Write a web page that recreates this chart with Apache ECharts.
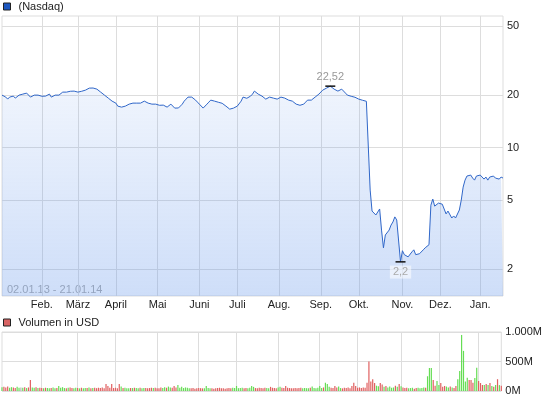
<!DOCTYPE html>
<html>
<head>
<meta charset="utf-8">
<script src="https://cdn.jsdelivr.net/npm/echarts@6/dist/echarts.min.js"></script>
<style>
  html, body { margin: 0; padding: 0; background: #fff; }
  #chart { width: 545px; height: 401px; }
</style>
</head>
<body>
<div id="chart"></div>
<script>
// Börsenfeiertage (Nasdaq) im Zeitraum
const holidays = ['2013-01-21', '2013-02-18', '2013-03-29', '2013-05-27', '2013-07-04',
  '2013-09-02', '2013-11-28', '2013-12-25', '2014-01-01', '2014-01-20']
const monthNames = ['Jan.', 'Feb.', 'März', 'April', 'Mai', 'Juni', 'Juli', 'Aug.', 'Sep.', 'Okt.', 'Nov.', 'Dez.']
const priceTicks = [2, 5, 10, 20, 50]
const rangeText = '02.01.13 - 21.01.14'

// Schlusskurse in USD (ein Wert je Handelstag)
const prices = [
  20.00, 19.74, 19.48, 18.97, 19.48, 20.00, 19.74, 19.22, 19.48, 20.00,
  20.00, 20.27, 20.22, 20.54, 20.27, 19.48, 19.74, 20.00, 19.74, 20.00,
  19.74, 19.70, 20.00, 19.74, 20.00, 20.27, 19.48, 19.74, 20.00, 19.74,
  20.00, 20.27, 20.81, 21.09, 20.81, 21.09, 21.05, 20.81, 21.09, 21.12,
  20.81, 21.09, 21.05, 21.12, 21.37, 21.33, 21.94, 21.90, 21.97, 21.94,
  21.65, 21.09, 20.81, 20.54, 20.00, 19.74, 19.22, 18.72, 18.47, 18.23,
  17.99, 17.29, 16.84, 17.06, 17.02, 17.29, 17.52, 17.75, 17.71, 17.99,
  17.75, 17.99, 18.23, 17.99, 18.23, 18.47, 18.23, 17.99, 17.95, 17.75,
  17.99, 17.75, 17.52, 17.48, 17.29, 17.52, 17.75, 17.06, 17.29, 17.75,
  17.52, 16.84, 16.80, 16.87, 17.06, 17.75, 18.47, 18.97, 19.48, 19.74,
  19.48, 19.22, 18.72, 18.23, 17.75, 17.29, 16.84, 17.29, 17.75, 18.23,
  18.72, 18.68, 18.47, 18.23, 18.20, 17.99, 17.95, 17.52, 17.29, 16.84,
  16.61, 16.39, 16.84, 17.06, 17.29, 17.52, 18.47, 19.48, 19.22, 19.18,
  19.48, 19.74, 20.27, 21.09, 20.54, 20.27, 20.00, 19.74, 19.48, 18.97,
  19.22, 19.48, 19.44, 19.22, 19.18, 18.97, 19.22, 19.48, 19.44, 19.22,
  18.97, 18.72, 18.68, 18.47, 17.99, 17.75, 17.52, 17.48, 17.29, 17.75,
  18.23, 18.72, 18.97, 18.72, 18.97, 19.48, 20.00, 20.27, 20.81, 21.37,
  21.33, 21.94, 22.23, 22.52, 21.94, 21.65, 21.37, 21.09, 21.37, 21.65,
  21.09, 20.54, 20.00, 19.74, 19.70, 19.48, 19.44, 19.22, 18.97, 18.72,
  18.68, 18.47, 18.43, 18.23, 5.69, 4.31, 4.26, 4.09, 4.15, 4.43,
  3.35, 2.65, 3.14, 3.10, 3.35, 3.58, 3.73, 3.99, 3.83, 3.88,
  2.20, 2.55, 2.42, 2.36, 2.35, 2.39, 2.51, 2.58, 2.42, 2.41,
  2.45, 2.51, 2.58, 2.65, 2.64, 2.76, 4.66, 5.05, 4.60, 4.54,
  4.79, 4.85, 4.72, 4.60, 4.15, 4.31, 4.37, 3.93, 4.04, 3.93,
  3.83, 4.37, 4.98, 5.92, 6.49, 6.85, 7.03, 6.94, 6.67, 6.49,
  6.85, 7.03, 6.94, 6.76, 6.58, 6.76, 6.49, 6.76, 6.67, 6.85,
  6.67, 6.76, 6.58, 6.76, 6.67
]

// Umsatz in Mio. USD
const volumes = [
  65, 70, 60, 75, 55, 65, 60, 50, 70, 55,
  60, 55, 65, 50, 60, 186, 60, 55, 65, 50,
  55, 50, 45, 55, 50, 48, 52, 60, 45, 50,
  85, 55, 65, 50, 45, 55, 60, 50, 45, 55,
  50, 45, 55, 48, 50, 52, 60, 45, 50, 55,
  48, 55, 50, 60, 45, 120, 85, 55, 120, 50,
  55, 45, 120, 75, 50, 55, 48, 45, 52, 50,
  55, 50, 45, 55, 48, 50, 52, 45, 50, 55,
  50, 55, 45, 48, 60, 50, 65, 55, 75, 60,
  55, 85, 60, 100, 55, 70, 50, 60, 55, 45,
  45, 50, 40, 45, 50, 48, 45, 45, 85, 50,
  45, 48, 40, 45, 50, 55, 45, 48, 40, 45,
  50, 45, 55, 50, 85, 48, 50, 55, 45, 50,
  48, 55, 85, 70, 50, 45, 55, 50, 45, 55,
  50, 48, 70, 55, 50, 45, 60, 70, 55, 50,
  85, 55, 50, 45, 48, 50, 45, 50, 55, 45,
  50, 48, 45, 55, 75, 50, 45, 55, 85, 50,
  60, 140, 120, 70, 55, 50, 85, 60, 75, 50,
  45, 55, 50, 60, 45, 85, 140, 85, 55, 60,
  50, 60, 55, 140, 500, 160, 200, 135, 90, 80,
  135, 110, 70, 85, 60, 75, 55, 60, 90, 70,
  120, 80, 60, 50, 55, 45, 50, 55, 40, 50,
  55, 45, 50, 60, 55, 250, 390, 390, 186, 90,
  170, 100, 135, 70, 85, 75, 60, 75, 60, 50,
  85, 200, 340, 950, 680, 160, 225, 186, 186, 140,
  220, 395, 170, 135, 100, 100, 120, 100, 135, 85,
  70, 100, 200, 100, 90
]

// Handelstage: Werktage ohne Feiertage
function buildDays(start, end) {
  const out = []
  for (let t = start; t <= end; t += 86400000) {
    const d = new Date(t)
    const wd = d.getUTCDay()
    const s = d.toISOString().slice(0, 10)
    if (wd === 0 || wd === 6 || holidays.includes(s)) continue
    out.push(s)
  }
  return out
}
const days = buildDays(Date.UTC(2013, 0, 2), Date.UTC(2014, 0, 21))

const isMonthStart = i => i > 0 && days[i].slice(5, 7) !== days[i - 1].slice(5, 7)

const FONT = 'Liberation Sans, Arial, sans-serif'
const GRID_COLOR = '#dddddd'
const UP = '#66dd55'
const DOWN = '#e06060'
const FLAT = '#b5b5b5'

const barColors = volumes.map((v, i) => {
  if (i === 0 || prices[i] > prices[i - 1]) return UP
  if (prices[i] < prices[i - 1]) return DOWN
  return FLAT
})

const fmtComma = v => String(v).replace('.', ',')

const chart = echarts.init(document.getElementById('chart'), null, { renderer: 'canvas' })

const xCommon = {
  type: 'category',
  data: days,
  boundaryGap: false,
  axisLine: { show: false },
  axisTick: { show: false },
  splitLine: { show: true, interval: i => isMonthStart(i), lineStyle: { color: GRID_COLOR, width: 1 } },
}

chart.setOption({
  animation: false,
  textStyle: { fontFamily: FONT },
  legend: [
    {
      data: ['(Nasdaq)'], left: 3, top: 1, padding: 0, icon: 'rect',
      itemWidth: 7, itemHeight: 7,
      itemStyle: { color: '#1d57c0', borderColor: '#222', borderWidth: 1 },
      textStyle: { color: '#222', fontSize: 11, fontFamily: FONT, padding: [0, 0, 0, 3] },
    },
    {
      data: ['Volumen in USD'], left: 3, top: 317, padding: 0, icon: 'rect',
      itemWidth: 7, itemHeight: 7,
      itemStyle: { color: '#d96464', borderColor: '#222', borderWidth: 1 },
      textStyle: { color: '#222', fontSize: 11, fontFamily: FONT, padding: [0, 0, 0, 3] },
    },
  ],
  grid: [
    { left: 2, top: 16, width: 501, height: 280, show: true, borderColor: GRID_COLOR, borderWidth: 1 },
    { left: 2, top: 332, width: 501, height: 59, show: true, borderColor: GRID_COLOR, borderWidth: 1 },
  ],
  xAxis: [
    {
      ...xCommon,
      gridIndex: 0,
      axisLabel: {
        interval: i => isMonthStart(i),
        formatter: v => monthNames[+v.slice(5, 7) - 1],
        color: '#222', fontSize: 11, margin: 3, fontFamily: FONT,
      },
    },
    { ...xCommon, gridIndex: 1, axisLabel: { show: false } },
  ],
  yAxis: [
    {
      type: 'log', logBase: 10, gridIndex: 0, position: 'right',
      min: 1.40, max: 57,
      axisLine: { show: false },
      axisTick: { show: false, customValues: priceTicks },
      axisLabel: { customValues: priceTicks, color: '#222', fontSize: 11, margin: 4, fontFamily: FONT },
      splitLine: { show: true, lineStyle: { color: GRID_COLOR } },
    },
    {
      type: 'value', gridIndex: 1, position: 'right',
      min: 0, max: 1000, interval: 500,
      axisLine: { show: false },
      axisTick: { show: false },
      axisLabel: {
        color: '#222', fontSize: 11, margin: 4, fontFamily: FONT,
        formatter: v => (v === 1000 ? '1.000' : v) + 'M',
      },
      splitLine: { show: true, lineStyle: { color: GRID_COLOR } },
    },
  ],
  series: [
    {
      name: '(Nasdaq)',
      type: 'line',
      xAxisIndex: 0, yAxisIndex: 0,
      data: prices,
      symbol: 'none',
      lineStyle: { color: '#2f66c8', width: 1 },
      itemStyle: { color: '#1d57c0' },
      areaStyle: {
        origin: 'start',
        color: new echarts.graphic.LinearGradient(0, 0, 0, 1, [
          { offset: 0, color: 'rgba(100,150,235,0.14)' },
          { offset: 1, color: 'rgba(100,150,235,0.45)' },
        ]),
      },
      markPoint: {
        symbol: 'rect',
        symbolSize: [10, 1.5],
        itemStyle: { color: '#111' },
        data: [
          {
            type: 'max',
            label: { show: true, position: 'top', distance: 3, color: '#999', fontSize: 11, formatter: p => fmtComma(p.value) },
          },
          {
            type: 'min',
            label: {
              show: true, position: 'bottom', distance: 3, color: '#aaa', fontSize: 11,
              backgroundColor: 'rgba(255,255,255,0.55)', padding: [1, 3],
              formatter: p => fmtComma(p.value),
            },
          },
        ],
      },
    },
    {
      name: 'Volumen in USD',
      type: 'bar',
      xAxisIndex: 1, yAxisIndex: 1,
      data: volumes.map((v, i) => ({ value: v, itemStyle: { color: barColors[i] } })),
      barWidth: 1.2,
      itemStyle: { color: '#d96464' },
    },
  ],
  graphic: [
    { type: 'text', left: 7, top: 284, style: { text: rangeText, fill: '#aaa', font: '11px ' + FONT } },
  ],
})
</script>
</body>
</html>
